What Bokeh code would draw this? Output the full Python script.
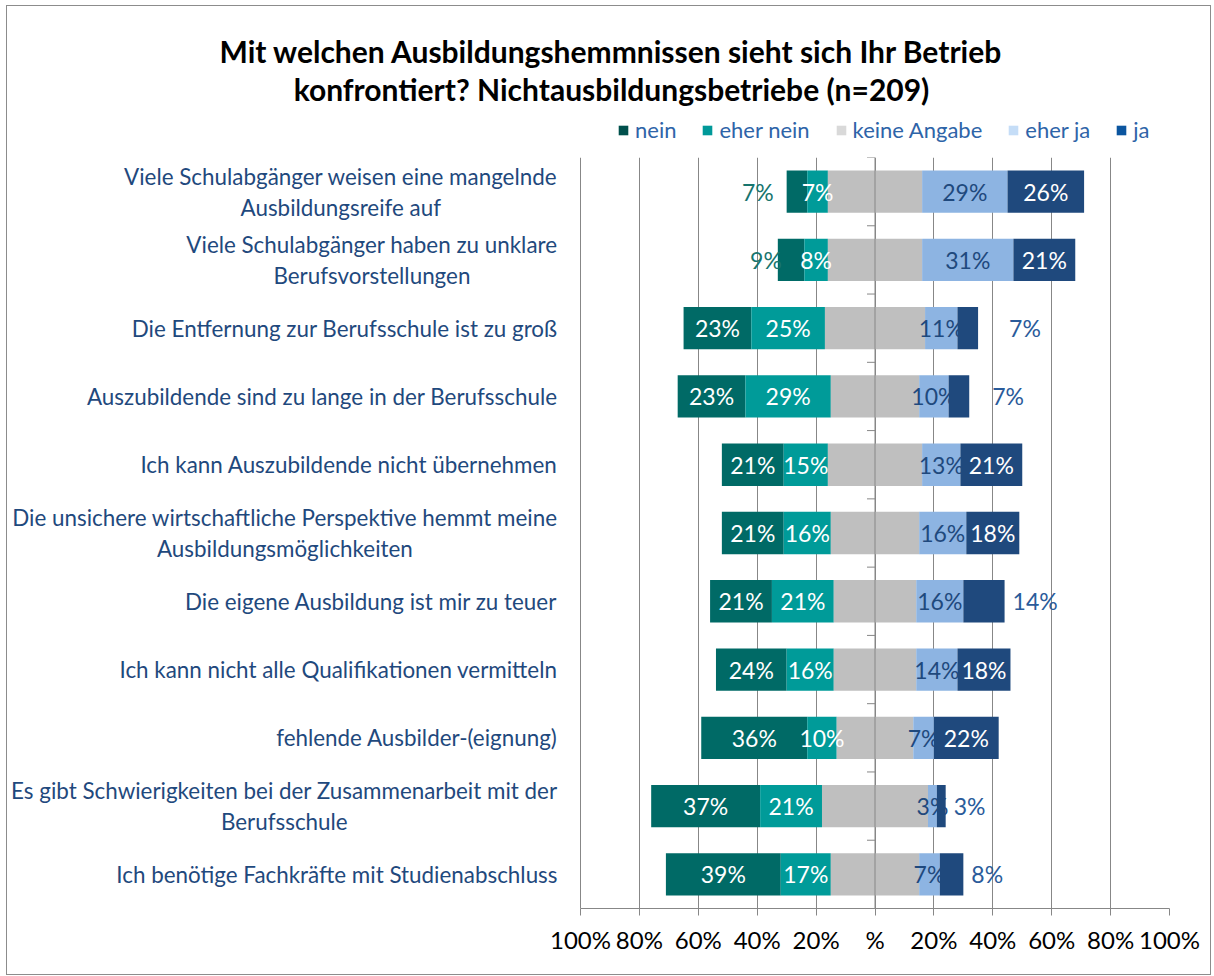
from bokeh.plotting import figure
from bokeh.layouts import column
from bokeh.models import (ColumnDataSource, Range1d, FixedTicker, Legend,
                          LegendItem, Span)
from bokeh.core.properties import value
from bokeh.embed import file_html
from bokeh.resources import INLINE

# ---------------- data ----------------
categories = [
    "Viele Schulabgänger weisen eine mangelnde\nAusbildungsreife auf",
    "Viele Schulabgänger haben zu unklare\nBerufsvorstellungen",
    "Die Entfernung zur Berufsschule ist zu groß",
    "Auszubildende sind zu lange in der Berufsschule",
    "Ich kann Auszubildende nicht übernehmen",
    "Die unsichere wirtschaftliche Perspektive hemmt meine\nAusbildungsmöglichkeiten",
    "Die eigene Ausbildung ist mir zu teuer",
    "Ich kann nicht alle Qualifikationen vermitteln",
    "fehlende Ausbilder-(eignung)",
    "Es gibt Schwierigkeiten bei der Zusammenarbeit mit der\nBerufsschule",
    "Ich benötige Fachkräfte mit Studienabschluss",
]
series_names = ["nein", "eher nein", "keine Angabe", "eher ja", "ja"]
nein = [7, 9, 23, 23, 21, 21, 21, 24, 36, 37, 39]
eher_nein = [7, 8, 25, 29, 15, 16, 21, 16, 10, 21, 17]
keine_angabe = [32, 32, 34, 30, 32, 30, 28, 28, 26, 36, 30]
eher_ja = [29, 31, 11, 10, 13, 16, 16, 14, 7, 3, 7]
ja = [26, 21, 7, 7, 21, 18, 14, 18, 22, 3, 8]

x_ticks = [-100, -80, -60, -40, -20, 0, 20, 40, 60, 80, 100]
x_tick_labels = ["100%", "80%", "60%", "40%", "20%", "%", "20%", "40%", "60%", "80%", "100%"]

title_lines = ["Mit welchen Ausbildungshemmnissen sieht sich Ihr Betrieb",
               "konfrontiert? Nichtausbildungsbetriebe (n=209)"]

# ---------------- styles ----------------
FONT = "Lato"
bar_colors = ["#006A66", "#009B99", "#BFBFBF", "#8DB4E2", "#1F497D"]
legend_colors = ["#00504C", "#009999", "#D9D9D9", "#C5DDF7", "#0B559F"]
inside_label_colors = ["white", "white", None, "#1F497D", "white"]
outside_nein_color = "#17756E"
outside_ja_color = "#2A5B9A"
outside_nein_gap = {0: 13, 1: -4}          # px gap left of bar for outside labels
outside_ja_gap = {2: 31, 3: 23, 6: 8, 9: 8, 10: 8}
grid_color = "#878787"
cat_color = "#1F497D"

CW = 1203            # content width
TOP_H = 151          # title + legend strip
MAIN_H = 817
BAR_W, FRAME_H = 589, 751   # pixel extent of the -100..100 data area
LEFT_W = 573                # pixels left of -100 reserved for category labels
CAT_GAP = 23                # px between category labels and the -100 line

n = len(categories)
ys = [n - 1 - i for i in range(n)]

ka_l = [-k / 2 for k in keine_angabe]
ka_r = [k / 2 for k in keine_angabe]
en_l = [a - b for a, b in zip(ka_l, eher_nein)]
ne_l = [a - b for a, b in zip(en_l, nein)]
ej_r = [a + b for a, b in zip(ka_r, eher_ja)]
ja_r = [a + b for a, b in zip(ej_r, ja)]

segments = [
    (ne_l, en_l, nein),
    (en_l, ka_l, eher_nein),
    (ka_l, ka_r, keine_angabe),
    (ka_r, ej_r, eher_ja),
    (ej_r, ja_r, ja),
]

# ---------------- top strip: title + legend ----------------
top = figure(width=CW, height=TOP_H, x_range=Range1d(0, CW), y_range=Range1d(0, TOP_H),
             output_backend="svg", toolbar_location=None,
             x_axis_location=None, y_axis_location=None,
             min_border_left=0, min_border_right=0, min_border_top=0, min_border_bottom=0)
top.frame_align = False
top.outline_line_color = None
top.xgrid.grid_line_color = None
top.ygrid.grid_line_color = None
top.text(x=[604, 604], y=[107, 69], text=title_lines, text_align="center",
         text_baseline="middle", text_font=value(FONT), text_font_size="30px",
         text_font_style="bold", text_color="black")

items = []
for k, name in enumerate(series_names):
    # legend proxies (kept below the visible strip) carrying the legend swatch colours
    r = top.hbar(y=[-100], left=[0], right=[1], height=1, fill_color=legend_colors[k], line_color=None)
    items.append(LegendItem(label=name, renderers=[r]))
legend = Legend(items=items, orientation="horizontal", location=(610, 14),
                glyph_width=12, glyph_height=12, label_standoff=6, spacing=25,
                padding=0, margin=0, border_line_color=None, background_fill_alpha=0,
                label_text_font=FONT, label_text_font_size="22px", label_text_color="#2E64A8")
top.add_layout(legend)

# ---------------- main chart ----------------
units_per_px = 200 / BAR_W
x_start = -100 - LEFT_W * units_per_px
p = figure(width=CW, height=MAIN_H, x_range=Range1d(x_start, 100), y_range=Range1d(-0.5, n - 0.5),
           output_backend="svg", toolbar_location=None, y_axis_location=None,
           min_border_left=0, min_border_right=CW - LEFT_W - BAR_W,
           min_border_top=0, min_border_bottom=MAIN_H - FRAME_H)
p.frame_align = False
p.outline_line_color = None

p.xaxis.ticker = FixedTicker(ticks=x_ticks)
p.xaxis.bounds = (-100, 100)
p.xaxis.major_label_overrides = {float(t): lab for t, lab in zip(x_ticks, x_tick_labels)}
p.xaxis.axis_line_color = grid_color
p.xaxis.major_tick_line_color = grid_color
p.xaxis.major_tick_in = 0
p.xaxis.major_tick_out = 7
p.xaxis.minor_tick_line_color = None
p.xaxis.major_label_text_font = FONT
p.xaxis.major_label_text_font_size = "24px"
p.xaxis.major_label_text_color = "black"
p.xaxis.major_label_standoff = 9

p.xgrid.grid_line_color = grid_color
p.ygrid.grid_line_color = None

for k, (l, r, v) in enumerate(segments):
    src = ColumnDataSource(dict(y=ys, left=l, right=r, v=v))
    p.hbar(y="y", left="left", right="right", height=0.62, source=src,
           fill_color=bar_colors[k], line_color=None)

p.add_layout(Span(location=0, dimension="height", line_color=grid_color, line_width=1))
bounds = [y + 0.5 for y in range(-1, n)]
p.ray(x=[0] * len(bounds), y=bounds, length=8, length_units="screen", angle=3.14159265,
      line_color=grid_color, line_width=1)

lx, ly, lt, la, lo, lc = [], [], [], [], [], []
for k, (l, r, v) in enumerate(segments):
    if k == 2:
        continue
    for i in range(n):
        if k == 0 and i in outside_nein_gap:
            lx.append(l[i]); la.append("right"); lo.append(-outside_nein_gap[i]); lc.append(outside_nein_color)
        elif k == 4 and i in outside_ja_gap:
            lx.append(r[i]); la.append("left"); lo.append(outside_ja_gap[i]); lc.append(outside_ja_color)
        else:
            lx.append((l[i] + r[i]) / 2); la.append("center"); lo.append(0); lc.append(inside_label_colors[k])
        ly.append(ys[i]); lt.append(f"{v[i]}%")
lsrc = ColumnDataSource(dict(x=lx, y=ly, text=lt, align=la, off=lo, color=lc))
p.text(x="x", y="y", text="text", text_align="align", x_offset="off", text_color="color",
       text_baseline="middle", text_font=value(FONT), text_font_size="23px", source=lsrc)

# category labels: block right-anchored next to the -100 line, lines centred
csrc = ColumnDataSource(dict(x=[x_ticks[0]] * n, y=ys, text=categories))
p.text(x="x", y="y", text="text", source=csrc, x_offset=-CAT_GAP, anchor=value("center_right"),
       text_align="center", text_baseline="middle", text_line_height=1.15,
       text_font=value(FONT), text_font_size="22.4px", text_color=cat_color)

layout = column(top, p, spacing=0)
layout.styles = {"border": "1px solid #8C8C8C", "margin": "5px 0 0 6px"}

open("out.html", "w").write(file_html(layout, INLINE))
